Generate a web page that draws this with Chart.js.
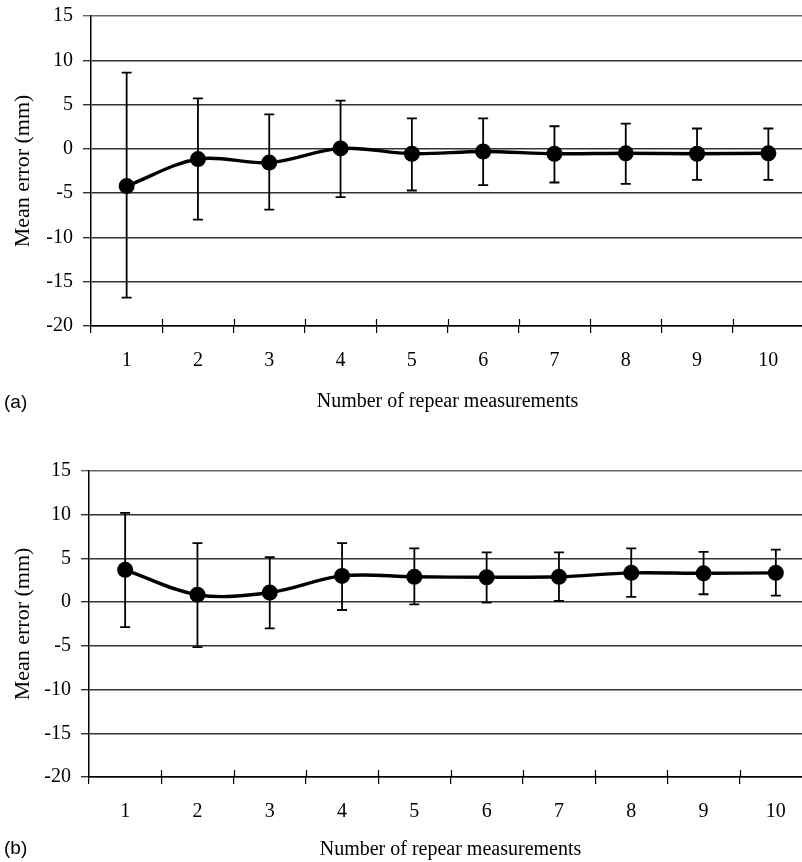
<!DOCTYPE html>
<html>
<head>
<meta charset="utf-8">
<script src="https://cdn.jsdelivr.net/npm/chart.js@4"></script>
<style>
html, body { margin: 0; padding: 0; background: #fff; overflow: hidden; width: 802px; height: 862px; position: relative; }
.panel { position: absolute; left: 0; }
.tag { position: absolute; left: 4px; font-family: "Liberation Sans", Arial, sans-serif; font-size: 19px; color: #000; line-height: 22px; }
</style>
</head>
<body>
<div class="panel" style="top:0px;width:812px;height:420px"><canvas id="chartA"></canvas></div>
<div class="tag" style="top:391px">(a)</div>
<div class="panel" style="top:455px;width:820px;height:407px"><canvas id="chartB"></canvas></div>
<div class="tag" style="top:837px">(b)</div>
<script>
"use strict";

// shared axis stuff
var repeats = ['1', '2', '3', '4', '5', '6', '7', '8', '9', '10'];
var yMin = -20;
var yMax = 15;
var yStep = 5;
var xTitle = 'Number of repear measurements';
var yTitle = 'Mean error (mm)';

// panel (a)
var meanA = [-4.2, -1.15, -1.55, 0.05, -0.55, -0.3, -0.55, -0.5, -0.55, -0.5];
var upperA = [8.6, 5.7, 3.9, 5.45, 3.45, 3.45, 2.55, 2.85, 2.3, 2.3];
var lowerA = [-16.8, -8.0, -6.85, -5.45, -4.7, -4.1, -3.8, -3.95, -3.5, -3.5];

// panel (b)
var meanB = [3.7, 0.85, 1.1, 3.0, 2.9, 2.85, 2.9, 3.35, 3.3, 3.35];
var upperB = [10.2, 6.75, 5.15, 6.75, 6.15, 5.7, 5.7, 6.15, 5.75, 6.0];
var lowerB = [-2.85, -5.15, -3.0, -0.9, -0.25, -0.05, 0.15, 0.6, 0.9, 0.75];

var serif = '"Liberation Serif", "Times New Roman", serif';

// error bars + the inner half of the x tick marks
var errorBars = {
    id: 'errorBars',
    beforeDatasetsDraw: function (chart) {
        var ctx = chart.ctx;
        var xs = chart.scales.x;
        var ys = chart.scales.y;
        var eb = chart.options.plugins.errorBars;
        ctx.save();
        ctx.strokeStyle = '#000';
        ctx.lineWidth = 1.8;
        for (var i = 0; i < eb.upper.length; i++) {
            var x = xs.getPixelForValue(i);
            var yt = ys.getPixelForValue(eb.upper[i]);
            var yb = ys.getPixelForValue(eb.lower[i]);
            ctx.beginPath();
            ctx.moveTo(x, yt); ctx.lineTo(x, yb);
            ctx.moveTo(x - 5, yt); ctx.lineTo(x + 5, yt);
            ctx.moveTo(x - 5, yb); ctx.lineTo(x + 5, yb);
            ctx.stroke();
        }
        // tick marks poke up into the plot a bit too
        var w = (xs.right - xs.left) / repeats.length;
        ctx.lineWidth = 1.2;
        ctx.beginPath();
        for (var k = 1; k < repeats.length; k++) {
            var tx = Math.round(xs.left + k * w) + 0.5;
            ctx.moveTo(tx, xs.top - 7);
            ctx.lineTo(tx, xs.top);
        }
        ctx.stroke();
        ctx.restore();
    }
};

function makeChart(id, mean, upper, lower, leftW, bottomH, titlePad) {
    var ctx = document.getElementById(id).getContext('2d');
    return new Chart(ctx, {
        type: 'line',
        data: {
            labels: repeats,
            datasets: [{
                data: mean,
                borderColor: '#000',
                borderWidth: 3.4,
                backgroundColor: '#000',
                pointRadius: 8,
                pointBorderWidth: 0,
                pointBackgroundColor: '#000',
                tension: 0.35
            }]
        },
        plugins: [errorBars],
        options: {
            responsive: true,
            maintainAspectRatio: false,
            animation: false,
            layout: { padding: { top: 16, right: 1, left: 0, bottom: 0 } },
            plugins: {
                legend: { display: false },
                tooltip: { enabled: false },
                errorBars: { upper: upper, lower: lower }
            },
            scales: {
                x: {
                    offset: true,
                    grid: { display: true, offset: true, drawOnChartArea: false, tickLength: 7, color: '#000', lineWidth: 1.2 },
                    border: { display: true, color: '#000', width: 1.5 },
                    ticks: { color: '#000', font: { family: serif, size: 20 }, padding: 16, maxRotation: 0, autoSkip: false },
                    title: { display: true, text: xTitle, color: '#000', font: { family: serif, size: 20 }, padding: { top: 0, bottom: titlePad } },
                    afterFit: function (scale) { scale.height = bottomH; }
                },
                y: {
                    min: yMin,
                    max: yMax,
                    grid: {
                        color: function (c) { return c.tick && c.tick.value === yMax ? '#666' : '#333'; },
                        lineWidth: 1.4,
                        tickLength: 8
                    },
                    border: { display: true, color: '#000', width: 1.5 },
                    ticks: { stepSize: yStep, color: '#000', font: { family: serif, size: 20 }, padding: 10 },
                    title: { display: true, text: yTitle, color: '#000', font: { family: serif, size: 22 }, padding: { top: 10, bottom: 0 } },
                    afterFit: function (scale) {
                        scale.width = leftW;
                        // let layout.padding decide where the top line sits
                        scale.paddingTop = 0;
                        scale.paddingBottom = 0;
                    }
                }
            }
        }
    });
}

makeChart('chartA', meanA, upperA, lowerA, 91, 94, 6);
makeChart('chartB', meanB, upperB, lowerB, 89, 85, 0);
</script>
</body>
</html>
